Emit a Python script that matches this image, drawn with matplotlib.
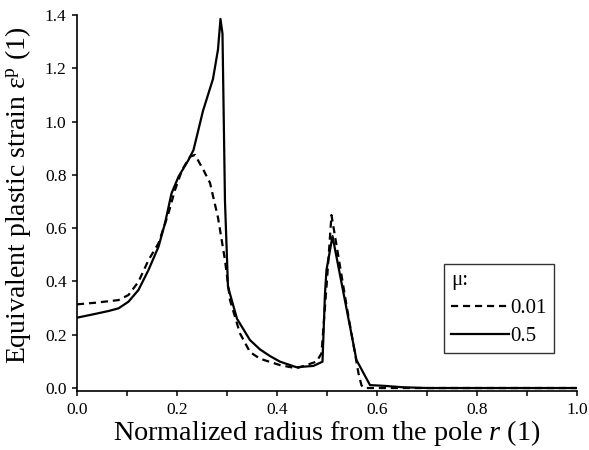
import matplotlib
matplotlib.use("Agg")
import matplotlib.pyplot as plt
from matplotlib.ticker import MultipleLocator

plt.rcParams['font.family'] = ['Liberation Serif', 'DejaVu Serif']
plt.rcParams['mathtext.fontset'] = 'custom'
plt.rcParams['mathtext.rm'] = 'Liberation Serif'
plt.rcParams['mathtext.it'] = 'Liberation Serif:italic'

# mu = 0.5 (solid)
r_solid = [0.0, 0.036, 0.063, 0.083, 0.103, 0.123, 0.143, 0.163, 0.176, 0.189,
           0.203, 0.223, 0.233, 0.252, 0.272, 0.282, 0.287, 0.291, 0.296, 0.302,
           0.32, 0.346, 0.366, 0.386, 0.406, 0.439, 0.473, 0.491, 0.496, 0.499,
           0.511, 0.559, 0.586, 0.616, 0.65, 0.7, 0.8, 0.9, 1.0]
eps_solid = [0.264, 0.278, 0.289, 0.299, 0.324, 0.368, 0.443, 0.53, 0.618, 0.73,
             0.793, 0.856, 0.893, 1.04, 1.16, 1.27, 1.385, 1.33, 0.70, 0.38,
             0.26, 0.18, 0.145, 0.12, 0.099, 0.078, 0.083, 0.099, 0.355, 0.443,
             0.57, 0.105, 0.011, 0.008, 0.003, 0.0, 0.0, 0.0, 0.0]

# mu = 0.01 (dashed)
r_dash = [0.0, 0.036, 0.083, 0.103, 0.123, 0.143, 0.163, 0.183, 0.196, 0.21,
          0.226, 0.236, 0.253, 0.266, 0.282, 0.296, 0.306, 0.326, 0.346, 0.366,
          0.406, 0.439, 0.479, 0.489, 0.5, 0.509, 0.54, 0.563, 0.569, 0.575,
          0.8, 1.0]
eps_dash = [0.314, 0.320, 0.330, 0.349, 0.399, 0.48, 0.543, 0.656, 0.743, 0.818,
            0.868, 0.875, 0.818, 0.77, 0.64, 0.48, 0.33, 0.205, 0.135, 0.11,
            0.086, 0.074, 0.099, 0.13, 0.405, 0.649, 0.30, 0.055, 0.01, 0.0,
            0.0, 0.0]

legend_title = "μ:"
labels = ["0.01", "0.5"]
xticks = [0.0, 0.2, 0.4, 0.6, 0.8, 1.0]
xticklabels = ["0.0", "0.2", "0.4", "0.6", "0.8", "1.0"]
yticks = [0.0, 0.2, 0.4, 0.6, 0.8, 1.0, 1.2, 1.4]
yticklabels = ["0.0", "0.2", "0.4", "0.6", "0.8", "1.0", "1.2", "1.4"]

fig = plt.figure(figsize=(5.89, 4.5), dpi=100)
ax = fig.add_axes([0.1307, 0.1318, 0.8489, 0.8349])

ax.plot(r_dash, eps_dash, color='black', lw=1.6, linestyle=(0, (3.2, 2.2)),
        label=labels[0])
ax.plot(r_solid, eps_solid, color='black', lw=1.6, label=labels[1])

ax.set_xlim(0, 1.0)
ax.set_ylim(-0.01, 1.4)
ax.set_xticks(xticks)
ax.set_xticklabels(xticklabels)
ax.xaxis.set_minor_locator(MultipleLocator(0.1))
ax.set_yticks(yticks)
ax.set_yticklabels(yticklabels)

for s in ['top', 'right']:
    ax.spines[s].set_visible(False)
for s in ['left', 'bottom']:
    ax.spines[s].set_linewidth(1.2)
ax.tick_params(which='both', direction='out', length=3.5, width=1.1, labelsize=12.5,
               colors='black')
ax.tick_params(axis='x', which='both', pad=4.5)
ax.tick_params(axis='y', which='both', pad=4)

ax.set_xlabel("Normalized radius from the pole $\\mathit{r}$ (1)", fontsize=20.3,
              labelpad=0)
ax.set_ylabel("Equivalent plastic strain ε$^{\\mathrm{p}}$ (1)", fontsize=20,
              labelpad=6)
ax.yaxis.set_label_coords(-0.087, 0.521)

leg = ax.legend(title=legend_title, loc='lower right', bbox_to_anchor=(0.954, 0.100),
                frameon=True, fancybox=False, edgecolor='black', fontsize=15,
                title_fontsize=15, handlelength=2.8, handletextpad=0.05,
                borderpad=0.35, labelspacing=0.4, borderaxespad=0.0)
leg.get_frame().set_linewidth(1.0)
leg._legend_box.align = "left"

fig.savefig("out.png", dpi=100)
